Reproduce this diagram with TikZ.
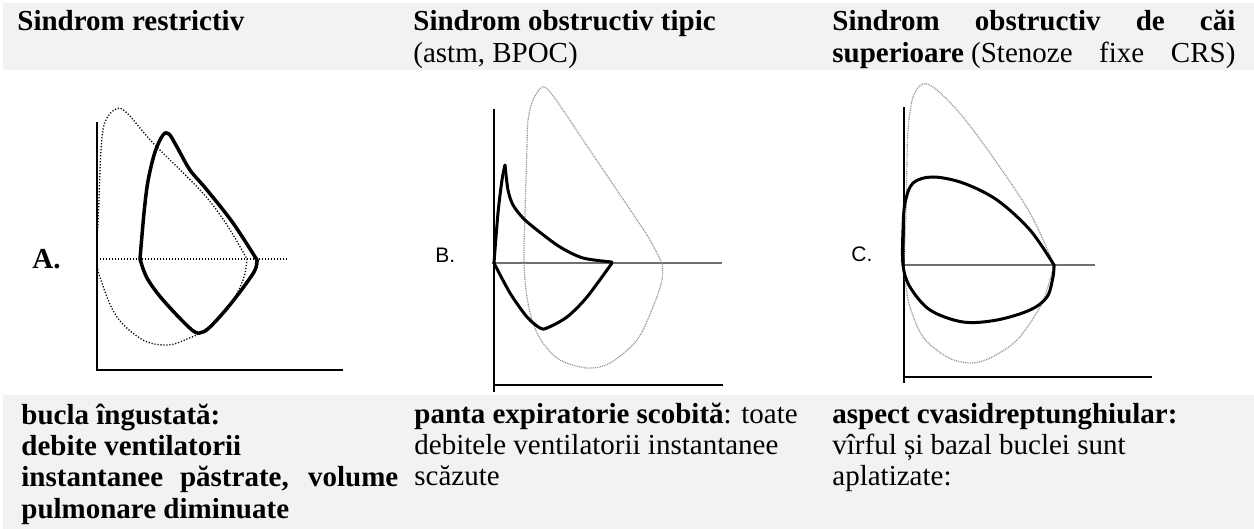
\documentclass[tikz,border=0pt]{standalone}
\usepackage{fontspec}
\setmainfont{Liberation Serif}
\newfontfamily\labsans{Liberation Sans}
\definecolor{bandgray}{HTML}{F2F2F2}
\definecolor{dotgray}{HTML}{8C8C8C}
\definecolor{thingray}{HTML}{707070}
\tikzset{
  txt/.style={anchor=base west, inner sep=0pt, font=\fontsize{14.5pt}{16pt}\selectfont},
  lab/.style={anchor=base west, inner sep=0pt, font=\labsans\fontsize{10.5pt}{12pt}\selectfont},
  band/.style={fill=bandgray, draw=none},
  axisline/.style={line width=1pt, line cap=butt},
  thinline/.style={line width=0.55pt, draw=thingray},
  thickA/.style={line width=1.75pt, line join=round, line cap=round},
  thickB/.style={line width=1.5pt, line join=round, line cap=round},
  dotA/.style={line width=0.65pt, dash pattern=on 0.6pt off 0.9pt},
  dotB/.style={line width=0.6pt, draw=dotgray, dash pattern=on 0.45pt off 0.45pt},
}
\begin{document}
\begin{tikzpicture}[x=0.5pt,y=-0.5pt]
\useasboundingbox (0,0) rectangle (1254,529);
% bands
\fill[band] (3,3) rectangle (1254,70.5);
\fill[band] (3,395) rectangle (1254,529);

% headers
\node[txt] (h1) at (17,30.5) {\textbf{Sindrom restrictiv}};
\node[txt] (h2a) at (413,30.5) {\textbf{Sindrom obstructiv tipic}};
\node[txt] (h2b) at (413,63) {(astm, BPOC)};
\node[txt] (h3a) at (832,30.5) {\makebox[201.5pt][s]{\textbf{Sindrom obstructiv de căi}}};
\node[txt] (h3b) at (832,63) {\makebox[201.5pt][s]{\textbf{superioare}\kern3.6pt(Stenoze fixe CRS)}};

% bottom texts
\node[txt] (b1a) at (21,424) {\textbf{bucla îngustată:}};
\node[txt] (b1b) at (21,455.5) {\textbf{debite ventilatorii}};
\node[txt] (b1c) at (21,487) {\makebox[188.5pt][s]{\textbf{instantanee păstrate, volume}}};
\node[txt] (b1d) at (21,518) {\textbf{pulmonare diminuate}};
\node[txt] (b2a) at (414,423) {\textbf{panta expiratorie scobită}: toate};
\node[txt] (b2b) at (414,454.5) {debitele ventilatorii instantanee};
\node[txt] (b2c) at (414,486) {scăzute};
\node[txt] (b3a) at (832,423) {\textbf{aspect cvasidreptunghiular:}};
\node[txt] (b3b) at (832,454.5) {vîrful și bazal buclei sunt};
\node[txt] (b3c) at (832,486) {aplatizate:};

% ---------- Panel A ----------
\node[txt] (la) at (32,269) {\textbf{A.}};
\draw[axisline] (96.7,121.7) -- (96.7,370) -- (343,370);
\draw[dotA] (97,259) -- (287,259);
\draw[dotA] plot[smooth, tension=0.6] coordinates {(247,259) (243,280) (227,310) (203,331) (187,339) (168,345) (143,340) (117,317) (102,283) (97,259) (99,200) (101,150) (105,122) (116,109) (127,113) (153,143) (200,190) (225,222) (247,259)};
\draw[thickA] plot[smooth, tension=0.55] coordinates {(140,259) (144,213) (148,181) (155,152) (163,135) (169,134) (177,147) (190,170) (207,190) (233,223) (257,260)};
\draw[thickA] plot[smooth, tension=0.55] coordinates {(257,260) (254,272) (233,301) (214,323) (203,332) (192,330) (163,300) (147,278) (140,259)};

% ---------- Panel B ----------
\node[lab] (lb) at (435,263) {B.};
\draw[thinline] (492,263) -- (722,263);
\draw[axisline] (494,109) -- (494,392);
\draw[axisline] (494,385) -- (723,385);
\draw[dotB] plot[smooth, tension=0.55] coordinates {(662,263) (650,240) (637,220) (610,180) (583,140) (563,110) (550,92) (542,87) (533,100) (528,120) (527,147) (525,213) (524,263) (527,297) (533,323) (543,343) (560,360) (587,368) (610,363) (637,340) (653,307) (662,280) (662,263)};
\draw[thickB] plot[smooth, tension=0.5] coordinates {(494,263) (498,213) (502,180) (505,165)};
\draw[thickB] plot[smooth, tension=0.5] coordinates {(505,165) (508,190) (513,205) (523,218) (537,230) (560,247) (583,258) (612,262)};
\draw[thickB] plot[smooth, tension=0.5] coordinates {(612,263) (587,297) (567,317) (547,328) (540,328) (527,317) (510,293) (494,263)};

% ---------- Panel C ----------
\node[lab] (lc) at (851,262) {C.};
\draw[thinline] (902,265) -- (1095,265);
\draw[axisline] (904,107) -- (904,383);
\draw[axisline] (904,377) -- (1152,377);
\draw[dotB] plot[smooth, tension=0.55] coordinates {(1054,265) (1052,260) (1030,213) (997,163) (963,117) (937,90) (923,84) (913,97) (908,130) (907,163) (906,213) (904,265) (905,280) (910,307) (923,337) (947,357) (970,363) (990,358) (1017,340) (1040,307) (1050,280) (1054,265)};
\draw[thickB] plot[smooth, tension=0.55] coordinates {(1054,265) (1030,230) (997,200) (963,183) (933,177) (913,183) (905,203) (903,230) (903,265) (910,287) (930,310) (963,322) (997,320) (1030,310) (1047,297) (1053,277) (1054,265)};
\end{tikzpicture}
\end{document}
